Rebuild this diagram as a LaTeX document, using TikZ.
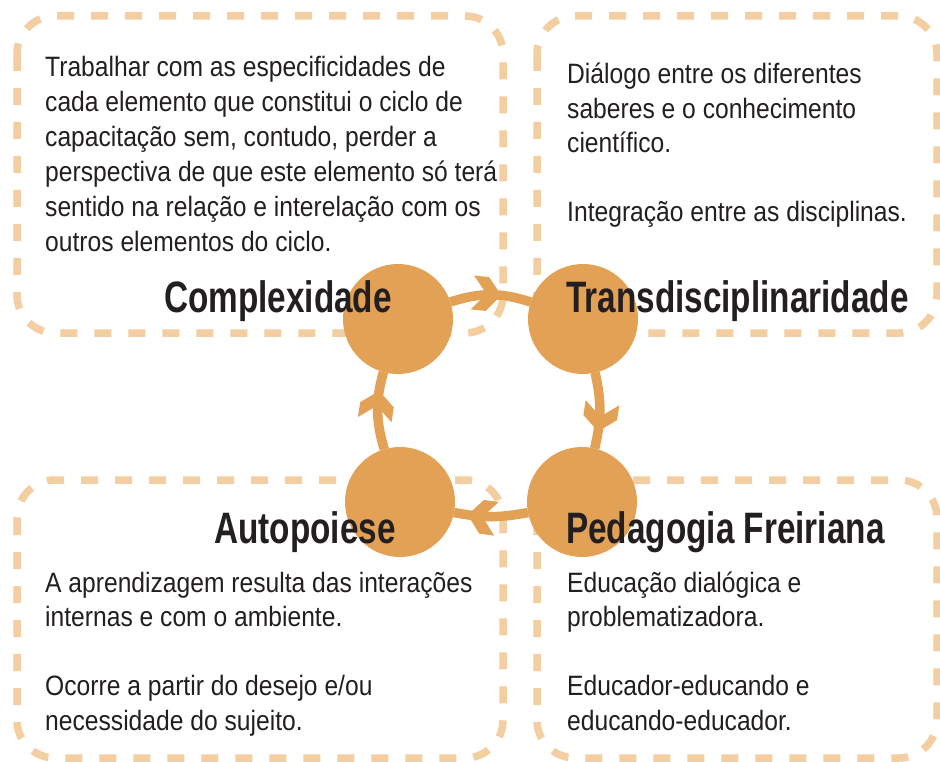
\documentclass[tikz,border=0pt]{standalone}
\usepackage{fontspec}
\setmainfont{Liberation Sans}
\newfontfamily\bodyfont{Liberation Sans}[FakeStretch=0.88]
\newfontfamily\headfont{Liberation Sans}[FakeStretch=0.757]
\usetikzlibrary{decorations.markings}
\definecolor{circ}{RGB}{227,161,86}
\definecolor{dashc}{RGB}{242,206,160}
\definecolor{txt}{RGB}{35,31,32}
\newcommand{\para}[1]{\begin{tabular}[t]{@{}l@{}}#1\end{tabular}}
\begin{document}
\begin{tikzpicture}[x=1pt,y=-1pt,
  dbox/.style={draw=dashc, line width=7.5pt, dash pattern=on 17pt off 17pt, rounded corners=38pt},
  hub/.style={circle, fill=circ, minimum size=110pt, inner sep=0pt, outer sep=0pt},
  head/.style={anchor=base west, inner sep=0pt, text=txt, font=\headfont\bfseries\fontsize{44}{50}\selectfont},
  body/.style={anchor=base west, inner sep=0pt, text=txt, font=\bodyfont\fontsize{28}{34.5}\selectfont},
  bodyw/.style={anchor=base west, inner sep=0pt, text=txt, font=\bodyfont\fontsize{28}{35}\selectfont},
  link/.style={draw=circ, line width=9.5pt},
  chev/.style={postaction={decorate, decoration={markings, mark=at position #1 with {\fill[circ] (1pt,0pt) -- (-13pt,-17pt) -- (-28pt,-17pt) -- (-14pt,0pt) -- (-28pt,17pt) -- (-13pt,17pt) -- cycle;}}}}
]
\useasboundingbox (0,0) rectangle (940,762);
\fill[white] (0,0) rectangle (940,762);

% dashed boxes
\draw[dbox] (17,16) rectangle (503,333);
\draw[dbox] (537,16) rectangle (937,333);
\draw[dbox] (17,480) rectangle (503,758);
\draw[dbox] (537,480) rectangle (937,758);

% hubs
\node[hub] (cC) at (398,319) {};
\node[hub] (cT) at (583,319) {};
\node[hub] (cP) at (582,502) {};
\node[hub] (cA) at (400,502) {};

% links
\draw[link, chev=0.62] (cC) to[bend left=18] (cT);
\draw[link, chev=0.76] (cT) to[bend left=13] (cP);
\draw[link, chev=0.8] (cP) to[bend left=11] (cA);
\draw[link, chev=0.74] (cA) to[bend left=16] (cC);

% headings
\node[head] (hC) at (164,312) {Complexidade};
\node[head] (hT) at (566,312) {Transdisciplinaridade};
\node[head] (hA) at (214,543) {Autopoiese};
\node[head] (hP) at (566,543) {Pedagogia Freiriana};

% texts
\node[bodyw] (tC) at (45,77) {\para{Trabalhar com as especificidades de\\
cada elemento que constitui o ciclo de\\
capacitação sem, contudo, perder a\\
perspectiva de que este elemento só terá\\
sentido na relação e interelação com os\\
outros elementos do ciclo.}};
\node[body] (tT) at (567,84) {\para{Diálogo entre os diferentes\\
saberes e o conhecimento\\
científico.\\
\\
Integração entre as disciplinas.}};
\node[body] (tA) at (45,592) {\para{A aprendizagem resulta das interações\\
internas e com o ambiente.\\
\\
Ocorre a partir do desejo e/ou\\
necessidade do sujeito.}};
\node[body] (tP) at (567,592) {\para{Educação dialógica e\\
problematizadora.\\
\\
Educador-educando e\\
educando-educador.}};
\end{tikzpicture}
\end{document}
